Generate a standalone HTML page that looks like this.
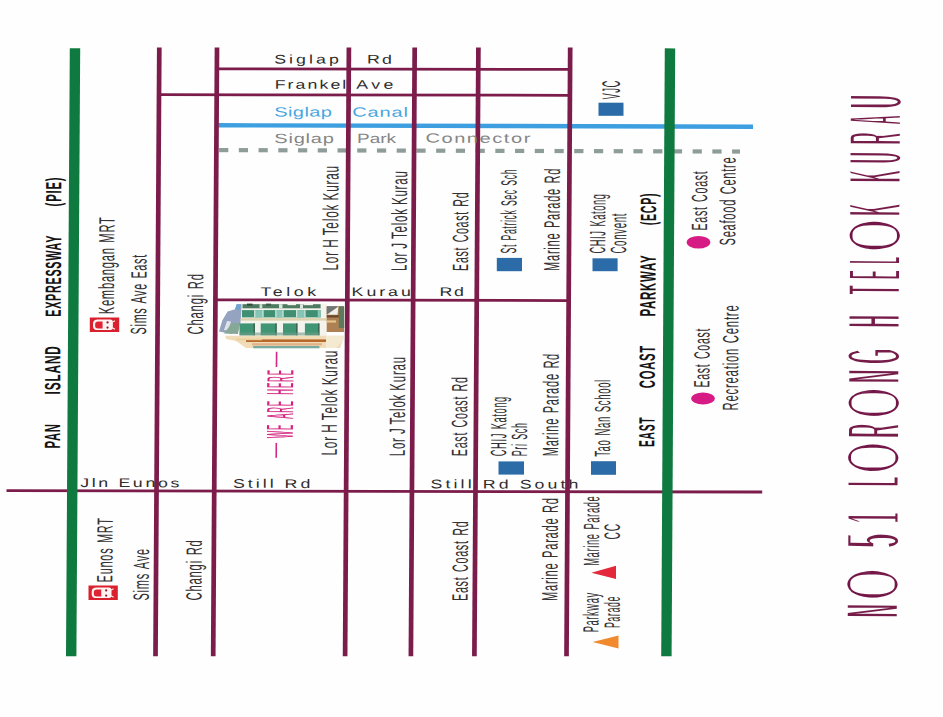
<!DOCTYPE html>
<html lang="en"><head><meta charset="utf-8"><title>No 51 Lorong H Telok Kurau - Location Map</title>
<style>
html,body{margin:0;padding:0;background:#fff;}
body{width:943px;height:717px;overflow:hidden;}
svg{display:block;}
svg text{font-family:"Liberation Sans",sans-serif;white-space:pre;}
</style></head>
<body>
<svg width="943" height="717" viewBox="0 0 943 717">
<defs>
<filter id="soft" filterUnits="userSpaceOnUse" x="210" y="296" width="145" height="60"><feGaussianBlur stdDeviation="0.55"/></filter>
<filter id="er1" filterUnits="userSpaceOnUse" x="0" y="0" width="943" height="717"><feMorphology operator="erode" radius="1 0"/></filter>
<filter id="er2" filterUnits="userSpaceOnUse" primitiveUnits="userSpaceOnUse" x="830" y="80" width="90" height="560"><feMorphology in="SourceGraphic" operator="erode" radius="3 0" x="830" y="80.00" width="90" height="138.30" result="n0"/><feMorphology in="SourceGraphic" operator="erode" radius="3 1" x="830" y="218.30" width="90" height="35.25" result="o0"/><feMorphology in="SourceGraphic" operator="erode" radius="3 0" x="830" y="253.55" width="90" height="132.30" result="n1"/><feMorphology in="SourceGraphic" operator="erode" radius="3 1" x="830" y="385.85" width="90" height="34.35" result="o1"/><feMorphology in="SourceGraphic" operator="erode" radius="3 0" x="830" y="420.20" width="90" height="20.35" result="n2"/><feMorphology in="SourceGraphic" operator="erode" radius="3 1" x="830" y="440.55" width="90" height="33.80" result="o2"/><feMorphology in="SourceGraphic" operator="erode" radius="3 0" x="830" y="474.35" width="90" height="84.70" result="n3"/><feMorphology in="SourceGraphic" operator="erode" radius="3 1" x="830" y="559.05" width="90" height="42.75" result="o3"/><feMorphology in="SourceGraphic" operator="erode" radius="3 0" x="830" y="601.80" width="90" height="38.20" result="n4"/><feMerge><feMergeNode in="n0"/><feMergeNode in="o0"/><feMergeNode in="n1"/><feMergeNode in="o1"/><feMergeNode in="n2"/><feMergeNode in="o2"/><feMergeNode in="n3"/><feMergeNode in="o3"/><feMergeNode in="n4"/></feMerge></filter>
</defs>
<rect width="943" height="717" fill="#fefefe"/>
<g id="building" filter="url(#soft)"><polygon points="236.6,304.2 242.2,304.2 240.5,323 232,334 219,331.4 222.3,320.6 227.6,311.6 235,309.3" fill="#94a3bf"/><polygon points="236.6,304.2 241,304.2 239.8,310 235.2,309.5" fill="#6ea4d2"/><polygon points="227,321 231,321.5 228,330.5 224,330" fill="#dfe4ea"/><polygon points="232,323 240,323.2 238,334 224,333.5" fill="#86a897"/><rect x="241.5" y="303.6" width="85.30" height="32.40" fill="#f4f3ec"/><rect x="242.5" y="304.2" width="78.10" height="4.10" fill="#4d7a60"/><rect x="247" y="303.6" width="5.50" height="2.00" fill="#2f4a3a"/><rect x="266" y="303.6" width="5.00" height="2.00" fill="#3a5a48"/><rect x="259.5" y="304.2" width="2.80" height="4.10" fill="#cfe0d6"/><rect x="279" y="304.2" width="3.50" height="4.10" fill="#dbe7df"/><rect x="300" y="304.2" width="3.00" height="4.10" fill="#dbe7df"/><rect x="287.5" y="303.4" width="8.50" height="1.80" fill="#f4f3ec"/><rect x="303.5" y="303.4" width="9.50" height="1.80" fill="#f4f3ec"/><rect x="242" y="310.1" width="78.60" height="7.30" fill="#3f8f73"/><rect x="254.7" y="310.1" width="8.30" height="7.30" fill="#86c4b6"/><rect x="275.8" y="310.1" width="7.20" height="7.30" fill="#86c4b6"/><rect x="296.6" y="310.1" width="8.30" height="7.30" fill="#86c4b6"/><rect x="317.7" y="310.1" width="2.90" height="7.30" fill="#86c4b6"/><rect x="254.2" y="310.1" width="1.10" height="7.30" fill="#dcebe4"/><rect x="262.5" y="310.1" width="1.10" height="7.30" fill="#dcebe4"/><rect x="275.3" y="310.1" width="1.10" height="7.30" fill="#dcebe4"/><rect x="282.5" y="310.1" width="1.10" height="7.30" fill="#dcebe4"/><rect x="296.1" y="310.1" width="1.10" height="7.30" fill="#dcebe4"/><rect x="304.4" y="310.1" width="1.10" height="7.30" fill="#dcebe4"/><rect x="240.5" y="318.2" width="86.30" height="2.40" fill="#ddd2ae"/><rect x="239.5" y="323.4" width="79.70" height="12.00" fill="#419574"/><rect x="254.7" y="323.0" width="6.00" height="12.80" fill="#f3f3ee"/><rect x="276.5" y="323.0" width="6.50" height="12.80" fill="#f3f3ee"/><rect x="297.3" y="323.0" width="7.60" height="12.80" fill="#f3f3ee"/><rect x="253.6" y="323.4" width="1.30" height="12.00" fill="#3a5c4c"/><rect x="275.4" y="323.4" width="1.30" height="12.00" fill="#3a5c4c"/><rect x="296.2" y="323.4" width="1.30" height="12.00" fill="#3a5c4c"/><rect x="318.2" y="323.4" width="1.30" height="12.00" fill="#3a5c4c"/><rect x="239.5" y="332.5" width="79.70" height="2.90" fill="#6f9d88" opacity="0.6"/><polygon points="326.7,306.3 338,306.3 344,306.3 344,332 326.7,332" fill="#ad8152"/><polygon points="326.7,306.3 338.5,306.3 326.7,314.6" fill="#6e7676"/><polygon points="338.5,306.5 326.9,314.8 337.5,314.8" fill="#eef0ee"/><rect x="338.8" y="306.3" width="5.40" height="21.70" fill="#5d7a5c"/><rect x="326.7" y="315.2" width="12.10" height="2.30" fill="#6b4a2c"/><rect x="326.7" y="320.4" width="9.30" height="2.20" fill="#e6c690"/><polygon points="225.3,335.7 343.6,335.7 343.6,338 340,348 246,348 236,341 226,339" fill="#f0dcb6"/><rect x="246" y="339.4" width="94.40" height="2.60" fill="#b8682c"/><rect x="236" y="338.6" width="26.00" height="1.60" fill="#e9cf9c"/><rect x="252" y="343.2" width="70.00" height="2.20" fill="#e3b187"/><rect x="253.2" y="345.9" width="66.20" height="2.40" fill="#78ab9e"/><polygon points="326,336 343.6,336 343.6,340 336,348 326,348" fill="#f4ead2"/></g>
<line x1="217.00" y1="68.80" x2="570.00" y2="69.40" stroke="#7b1c4b" stroke-width="2.8"/>
<line x1="159.00" y1="94.70" x2="570.00" y2="95.30" stroke="#7b1c4b" stroke-width="2.8"/>
<line x1="218.50" y1="125.30" x2="753.00" y2="126.70" stroke="#3d9fe0" stroke-width="4.4"/>
<rect x="219.10" y="148.00" width="9.20" height="4.2" fill="#8e9c9a"/>
<rect x="238.83" y="148.06" width="9.20" height="4.2" fill="#8e9c9a"/>
<rect x="258.56" y="148.11" width="9.20" height="4.2" fill="#8e9c9a"/>
<rect x="278.29" y="148.17" width="9.20" height="4.2" fill="#8e9c9a"/>
<rect x="298.02" y="148.22" width="9.20" height="4.2" fill="#8e9c9a"/>
<rect x="317.75" y="148.28" width="9.20" height="4.2" fill="#8e9c9a"/>
<rect x="337.48" y="148.33" width="9.20" height="4.2" fill="#8e9c9a"/>
<rect x="357.21" y="148.39" width="9.20" height="4.2" fill="#8e9c9a"/>
<rect x="376.94" y="148.44" width="9.20" height="4.2" fill="#8e9c9a"/>
<rect x="396.67" y="148.50" width="9.20" height="4.2" fill="#8e9c9a"/>
<rect x="416.40" y="148.55" width="9.20" height="4.2" fill="#8e9c9a"/>
<rect x="436.13" y="148.61" width="9.20" height="4.2" fill="#8e9c9a"/>
<rect x="455.86" y="148.66" width="9.20" height="4.2" fill="#8e9c9a"/>
<rect x="475.59" y="148.72" width="9.20" height="4.2" fill="#8e9c9a"/>
<rect x="495.32" y="148.77" width="9.20" height="4.2" fill="#8e9c9a"/>
<rect x="515.05" y="148.83" width="9.20" height="4.2" fill="#8e9c9a"/>
<rect x="534.78" y="148.88" width="9.20" height="4.2" fill="#8e9c9a"/>
<rect x="554.51" y="148.94" width="9.20" height="4.2" fill="#8e9c9a"/>
<rect x="574.24" y="148.99" width="9.20" height="4.2" fill="#8e9c9a"/>
<rect x="593.97" y="149.05" width="9.20" height="4.2" fill="#8e9c9a"/>
<rect x="613.70" y="149.11" width="9.20" height="4.2" fill="#8e9c9a"/>
<rect x="633.43" y="149.16" width="9.20" height="4.2" fill="#8e9c9a"/>
<rect x="653.16" y="149.22" width="9.20" height="4.2" fill="#8e9c9a"/>
<rect x="672.89" y="149.27" width="9.20" height="4.2" fill="#8e9c9a"/>
<rect x="692.62" y="149.33" width="9.20" height="4.2" fill="#8e9c9a"/>
<rect x="712.35" y="149.38" width="9.20" height="4.2" fill="#8e9c9a"/>
<rect x="732.08" y="149.44" width="7.92" height="4.2" fill="#8e9c9a"/>
<line x1="216.00" y1="299.80" x2="569.50" y2="300.60" stroke="#7b1c4b" stroke-width="2.8"/>
<line x1="6.50" y1="490.60" x2="762.20" y2="492.00" stroke="#7b1c4b" stroke-width="2.8"/>
<line x1="159.30" y1="47.60" x2="155.50" y2="656.20" stroke="#7b1c4b" stroke-width="4.7"/>
<line x1="217.00" y1="47.60" x2="213.20" y2="656.20" stroke="#7b1c4b" stroke-width="4.7"/>
<line x1="348.90" y1="47.60" x2="345.10" y2="656.20" stroke="#7b1c4b" stroke-width="4.7"/>
<line x1="414.70" y1="47.60" x2="410.90" y2="656.20" stroke="#7b1c4b" stroke-width="4.7"/>
<line x1="478.40" y1="47.60" x2="474.40" y2="656.20" stroke="#7b1c4b" stroke-width="4.7"/>
<line x1="570.20" y1="47.60" x2="566.50" y2="656.20" stroke="#7b1c4b" stroke-width="4.7"/>
<line x1="75.00" y1="48.20" x2="71.20" y2="656.20" stroke="#0f7a3f" stroke-width="10.4"/>
<line x1="670.00" y1="48.40" x2="666.40" y2="656.20" stroke="#0f7a3f" stroke-width="10.4"/>
<rect x="598.5" y="102.7" width="25.00" height="13.10" fill="#2b6ca8"/>
<rect x="496.8" y="257.9" width="25.20" height="13.30" fill="#2b6ca8"/>
<rect x="592.5" y="258.3" width="25.10" height="12.90" fill="#2b6ca8"/>
<rect x="498.5" y="461.4" width="25.50" height="13.20" fill="#2b6ca8"/>
<rect x="591.0" y="461.2" width="25.00" height="13.60" fill="#2b6ca8"/>
<ellipse cx="698.5" cy="242.3" rx="11.8" ry="6.3" fill="#d61c84"/>
<ellipse cx="703" cy="398.5" rx="11.8" ry="6.1" fill="#d61c84"/>
<polygon points="591.4,572.8 616,565.8 616,579.1" fill="#e2283a"/>
<polygon points="592.6,641.9 618.5,635.6 618.5,648.6" fill="#f18a2c"/>
<g transform="translate(89.8,317.5) scale(1.0068,1.0069)"><rect width="29.2" height="14.4" fill="#d9202f"/><path d="M8.2,2.1 H20.4 Q22.9,2.1 22.9,4.6 V10 Q22.9,12.5 20.4,12.5 H8.2 Q3.2,12.5 3.2,8.6 V6 Q3.2,2.1 8.2,2.1 Z" fill="#fff4f2"/><path d="M8.4,3.9 H12.7 V10.9 H8.4 Q5.3,10.9 5.3,8.4 V6.4 Q5.3,3.9 8.4,3.9 Z" fill="#e12435"/><circle cx="17.6" cy="4.9" r="1.1" fill="#8d1228"/><circle cx="17.6" cy="10" r="1.1" fill="#8d1228"/><path d="M22.4,4.6 L25,3.2 M22.4,10.2 L25,11.6" stroke="#fff4f2" stroke-width="1.1" fill="none"/></g>
<g transform="translate(88.5,585.5) scale(1.0034,1.0069)"><rect width="29.2" height="14.4" fill="#d9202f"/><path d="M8.2,2.1 H20.4 Q22.9,2.1 22.9,4.6 V10 Q22.9,12.5 20.4,12.5 H8.2 Q3.2,12.5 3.2,8.6 V6 Q3.2,2.1 8.2,2.1 Z" fill="#fff4f2"/><path d="M8.4,3.9 H12.7 V10.9 H8.4 Q5.3,10.9 5.3,8.4 V6.4 Q5.3,3.9 8.4,3.9 Z" fill="#e12435"/><circle cx="17.6" cy="4.9" r="1.1" fill="#8d1228"/><circle cx="17.6" cy="10" r="1.1" fill="#8d1228"/><path d="M22.4,4.6 L25,3.2 M22.4,10.2 L25,11.6" stroke="#fff4f2" stroke-width="1.1" fill="none"/></g>
<text transform="translate(59.90,448.50) rotate(-89.645)" font-size="22.05" font-weight="bold" fill="#151313" letter-spacing="1.6" word-spacing="3" textLength="25.19" lengthAdjust="spacingAndGlyphs">PAN</text>
<text transform="translate(60.10,394.40) rotate(-89.645)" font-size="22.05" font-weight="bold" fill="#151313" letter-spacing="1.6" word-spacing="3" textLength="49.04" lengthAdjust="spacingAndGlyphs">ISLAND</text>
<text transform="translate(60.70,316.80) rotate(-89.645)" font-size="22.05" font-weight="bold" fill="#151313" letter-spacing="1.6" word-spacing="3" textLength="81.87" lengthAdjust="spacingAndGlyphs">EXPRESSWAY</text>
<text transform="translate(61.10,206.40) rotate(-89.645)" font-size="22.05" font-weight="bold" fill="#151313" letter-spacing="1.6" word-spacing="3" textLength="29.69" lengthAdjust="spacingAndGlyphs">(PIE)</text>
<text transform="translate(113.90,314.30) rotate(-89.645)" font-size="22.05" fill="#333031" letter-spacing="1.6" word-spacing="1.5" textLength="97.90" lengthAdjust="spacingAndGlyphs">Kembangan MRT</text>
<text transform="translate(146.10,334.40) rotate(-89.645)" font-size="22.05" fill="#333031" letter-spacing="1.6" word-spacing="1.5" textLength="80.37" lengthAdjust="spacingAndGlyphs">Sims Ave East</text>
<text transform="translate(202.90,334.40) rotate(-89.645)" font-size="22.05" fill="#333031" letter-spacing="1.6" word-spacing="1.5" textLength="61.10" lengthAdjust="spacingAndGlyphs">Changi Rd</text>
<text transform="translate(337.90,270.50) rotate(-89.645)" font-size="22.05" fill="#333031" letter-spacing="1.6" word-spacing="-1.5" textLength="105.44" lengthAdjust="spacingAndGlyphs">Lor H Telok Kurau</text>
<text transform="translate(406.60,270.90) rotate(-89.645)" font-size="22.05" fill="#333031" letter-spacing="1.6" word-spacing="-1.5" textLength="100.52" lengthAdjust="spacingAndGlyphs">Lor J Telok Kurau</text>
<text transform="translate(467.90,270.90) rotate(-89.645)" font-size="22.05" fill="#333031" letter-spacing="1.6" word-spacing="1.5" textLength="79.26" lengthAdjust="spacingAndGlyphs">East Coast Rd</text>
<text transform="translate(516.10,253.50) rotate(-89.645)" font-size="22.05" fill="#333031" letter-spacing="1.6" word-spacing="1.5" textLength="84.62" lengthAdjust="spacingAndGlyphs">St Patrick Sec Sch</text>
<text transform="translate(559.30,270.90) rotate(-89.645)" font-size="22.05" fill="#333031" letter-spacing="1.6" word-spacing="1.5" textLength="102.99" lengthAdjust="spacingAndGlyphs">Marine Parade Rd</text>
<text transform="translate(619.70,99.60) rotate(-89.645)" font-size="25.12" fill="#333031" letter-spacing="1.6" word-spacing="1.5" textLength="19.38" lengthAdjust="spacingAndGlyphs">VJC</text>
<text transform="translate(605.10,253.50) rotate(-89.645)" font-size="22.05" fill="#333031" letter-spacing="1.6" word-spacing="1.5" textLength="60.06" lengthAdjust="spacingAndGlyphs">CHIJ Katong</text>
<text transform="translate(626.10,253.50) rotate(-89.645)" font-size="22.05" fill="#333031" letter-spacing="1.6" word-spacing="1.5" textLength="40.58" lengthAdjust="spacingAndGlyphs">Convent</text>
<text transform="translate(655.90,225.30) rotate(-89.645)" font-size="22.05" font-weight="bold" fill="#151313" letter-spacing="1.6" word-spacing="3" textLength="32.55" lengthAdjust="spacingAndGlyphs">(ECP)</text>
<text transform="translate(655.30,316.50) rotate(-89.645)" font-size="22.05" font-weight="bold" fill="#151313" letter-spacing="1.6" word-spacing="3" textLength="61.91" lengthAdjust="spacingAndGlyphs">PARKWAY</text>
<text transform="translate(654.70,388.20) rotate(-89.645)" font-size="22.05" font-weight="bold" fill="#151313" letter-spacing="1.6" word-spacing="3" textLength="43.20" lengthAdjust="spacingAndGlyphs">COAST</text>
<text transform="translate(654.30,447.00) rotate(-89.645)" font-size="22.05" font-weight="bold" fill="#151313" letter-spacing="1.6" word-spacing="3" textLength="30.22" lengthAdjust="spacingAndGlyphs">EAST</text>
<text transform="translate(706.90,230.60) rotate(-89.645)" font-size="22.05" fill="#333031" letter-spacing="1.6" word-spacing="1.5" textLength="60.16" lengthAdjust="spacingAndGlyphs">East Coast</text>
<text transform="translate(735.10,245.40) rotate(-89.645)" font-size="22.05" fill="#333031" letter-spacing="1.6" word-spacing="1.5" textLength="88.79" lengthAdjust="spacingAndGlyphs">Seafood Centre</text>
<text transform="translate(709.30,387.60) rotate(-89.645)" font-size="22.05" fill="#333031" letter-spacing="1.6" word-spacing="1.5" textLength="59.85" lengthAdjust="spacingAndGlyphs">East Coast</text>
<text transform="translate(737.90,410.50) rotate(-89.645)" font-size="22.05" fill="#333031" letter-spacing="1.6" word-spacing="1.5" textLength="106.01" lengthAdjust="spacingAndGlyphs">Recreation Centre</text>
<text transform="translate(336.70,455.60) rotate(-89.645)" font-size="22.05" fill="#333031" letter-spacing="1.6" word-spacing="-1.5" textLength="105.85" lengthAdjust="spacingAndGlyphs">Lor H Telok Kurau</text>
<text transform="translate(404.70,456.20) rotate(-89.645)" font-size="22.05" fill="#333031" letter-spacing="1.6" word-spacing="-1.5" textLength="100.02" lengthAdjust="spacingAndGlyphs">Lor J Telok Kurau</text>
<text transform="translate(466.90,456.20) rotate(-89.645)" font-size="22.05" fill="#333031" letter-spacing="1.6" word-spacing="1.5" textLength="79.86" lengthAdjust="spacingAndGlyphs">East Coast Rd</text>
<text transform="translate(506.10,456.20) rotate(-89.645)" font-size="22.05" fill="#333031" letter-spacing="1.6" word-spacing="1.5" textLength="60.06" lengthAdjust="spacingAndGlyphs">CHIJ Katong</text>
<text transform="translate(526.90,456.20) rotate(-89.645)" font-size="22.05" fill="#333031" letter-spacing="1.6" word-spacing="1.5" textLength="33.73" lengthAdjust="spacingAndGlyphs">Pri Sch</text>
<text transform="translate(558.10,456.20) rotate(-89.645)" font-size="22.05" fill="#333031" letter-spacing="1.6" word-spacing="1.5" textLength="103.19" lengthAdjust="spacingAndGlyphs">Marine Parade Rd</text>
<text transform="translate(609.90,456.80) rotate(-89.645)" font-size="22.05" fill="#333031" letter-spacing="1.6" word-spacing="1.5" textLength="77.68" lengthAdjust="spacingAndGlyphs">Tao Nan School</text>
<text transform="translate(112.30,582.40) rotate(-89.645)" font-size="22.05" fill="#333031" letter-spacing="1.6" word-spacing="1.5" textLength="65.08" lengthAdjust="spacingAndGlyphs">Eunos MRT</text>
<text transform="translate(148.70,600.50) rotate(-89.645)" font-size="22.05" fill="#333031" letter-spacing="1.6" word-spacing="1.5" textLength="52.28" lengthAdjust="spacingAndGlyphs">Sims Ave</text>
<text transform="translate(201.40,600.50) rotate(-89.645)" font-size="22.05" fill="#333031" letter-spacing="1.6" word-spacing="1.5" textLength="61.10" lengthAdjust="spacingAndGlyphs">Changi Rd</text>
<text transform="translate(467.60,601.00) rotate(-89.645)" font-size="22.05" fill="#333031" letter-spacing="1.6" word-spacing="1.5" textLength="80.37" lengthAdjust="spacingAndGlyphs">East Coast Rd</text>
<text transform="translate(557.30,601.00) rotate(-89.645)" font-size="22.05" fill="#333031" letter-spacing="1.6" word-spacing="1.5" textLength="103.69" lengthAdjust="spacingAndGlyphs">Marine Parade Rd</text>
<text transform="translate(598.90,565.80) rotate(-89.645)" font-size="22.05" fill="#333031" letter-spacing="1.6" word-spacing="1.5" textLength="70.17" lengthAdjust="spacingAndGlyphs">Marine Parade</text>
<text transform="translate(619.70,539.50) rotate(-89.645)" font-size="22.05" fill="#333031" letter-spacing="1.6" word-spacing="1.5" textLength="16.31" lengthAdjust="spacingAndGlyphs">CC</text>
<text transform="translate(598.50,632.30) rotate(-89.645)" font-size="22.05" fill="#333031" letter-spacing="1.6" word-spacing="1.5" textLength="40.06" lengthAdjust="spacingAndGlyphs">Parkway</text>
<text transform="translate(619.70,628.10) rotate(-89.645)" font-size="22.05" fill="#333031" letter-spacing="1.6" word-spacing="1.5" textLength="32.02" lengthAdjust="spacingAndGlyphs">Parade</text>
<text transform="translate(274.20,63.50) rotate(0.1)" font-size="12.50" fill="#2e2c2c" letter-spacing="2.16" textLength="67.77" lengthAdjust="spacingAndGlyphs">Siglap</text>
<text transform="translate(366.90,63.60) rotate(0.1)" font-size="12.50" fill="#2e2c2c" letter-spacing="1.70" textLength="27.51" lengthAdjust="spacingAndGlyphs">Rd</text>
<text transform="translate(274.70,88.70) rotate(0.1)" font-size="12.50" fill="#2e2c2c" letter-spacing="1.46" textLength="73.67" lengthAdjust="spacingAndGlyphs">Frankel</text>
<text transform="translate(356.30,88.80) rotate(0.1)" font-size="12.50" fill="#2e2c2c" letter-spacing="2.41" textLength="40.52" lengthAdjust="spacingAndGlyphs">Ave</text>
<text transform="translate(274.20,116.50) rotate(0.1)" font-size="13.37" fill="#4aa6de" letter-spacing="0.27" textLength="58.21" lengthAdjust="spacingAndGlyphs">Siglap</text>
<text transform="translate(352.30,116.60) rotate(0.1)" font-size="13.37" fill="#4aa6de" letter-spacing="0.55" textLength="56.52" lengthAdjust="spacingAndGlyphs">Canal</text>
<text transform="translate(274.20,143.00) rotate(0.1)" font-size="13.37" fill="#858585" letter-spacing="0.54" textLength="60.61" lengthAdjust="spacingAndGlyphs">Siglap</text>
<text transform="translate(357.00,143.00) rotate(0.1)" font-size="13.37" fill="#858585" letter-spacing="0.00" textLength="39.00" lengthAdjust="spacingAndGlyphs">Park</text>
<text transform="translate(425.40,142.60) rotate(0.1)" font-size="13.37" fill="#858585" letter-spacing="1.04" textLength="106.56" lengthAdjust="spacingAndGlyphs">Connector</text>
<text transform="translate(260.40,295.90) rotate(0.1)" font-size="12.50" fill="#2e2c2c" letter-spacing="2.53" textLength="59.39" lengthAdjust="spacingAndGlyphs">Telok</text>
<text transform="translate(351.60,296.00) rotate(0.1)" font-size="12.50" fill="#2e2c2c" letter-spacing="2.08" textLength="62.16" lengthAdjust="spacingAndGlyphs">Kurau</text>
<text transform="translate(439.40,296.00) rotate(0.1)" font-size="12.50" fill="#2e2c2c" letter-spacing="1.20" textLength="26.11" lengthAdjust="spacingAndGlyphs">Rd</text>
<text transform="translate(80.20,487.00) rotate(0.1)" font-size="12.50" fill="#2e2c2c" letter-spacing="1.86" textLength="101.74" lengthAdjust="spacingAndGlyphs">Jln Eunos</text>
<text transform="translate(232.90,487.80) rotate(0.1)" font-size="12.50" fill="#2e2c2c" letter-spacing="2.13" textLength="80.43" lengthAdjust="spacingAndGlyphs">Still Rd</text>
<text transform="translate(430.60,488.30) rotate(0.1)" font-size="12.50" fill="#2e2c2c" letter-spacing="2.19" textLength="151.00" lengthAdjust="spacingAndGlyphs">Still Rd South</text>
<g filter="url(#er1)">
<text transform="translate(293.30,438.20) rotate(-89.645)" font-size="38.81" stroke="#d4207e" stroke-width="1.2" fill="#d4207e" letter-spacing="5" word-spacing="11" textLength="68.98" lengthAdjust="spacingAndGlyphs">WE ARE HERE</text>
</g>
<line x1="276.6" y1="351.7" x2="276.5" y2="367.0" stroke="#d22a82" stroke-width="1.6"/>
<line x1="276.3" y1="442.9" x2="276.2" y2="457.7" stroke="#d22a82" stroke-width="1.6"/>
<g filter="url(#er2)"><title>NO 51 LORONG H TELOK KURAU</title>
<text transform="translate(899.80,616.30) rotate(-89.645)" font-size="79.94" fill="#741a48"><tspan x="-1.21" textLength="13.02" lengthAdjust="spacingAndGlyphs" y="0" font-weight="bold">N</tspan><tspan x="16.39" textLength="31.05" lengthAdjust="spacingAndGlyphs" y="-1.6" font-size="75.15" stroke="#741a48" stroke-width="3.3">O</tspan></text>
<text transform="translate(900.23,547.20) rotate(-89.645)" font-size="79.94" fill="#741a48"><tspan x="-0.78" textLength="14.08" lengthAdjust="spacingAndGlyphs" y="0" font-weight="bold">5</tspan><tspan x="24.08" textLength="9.92" lengthAdjust="spacingAndGlyphs" y="0" font-weight="bold">1</tspan></text>
<text transform="translate(900.61,485.20) rotate(-89.645)" font-size="79.94" fill="#741a48"><tspan x="-1.02" textLength="9.28" lengthAdjust="spacingAndGlyphs" y="0" font-weight="bold">L</tspan><tspan x="11.89" textLength="30.83" lengthAdjust="spacingAndGlyphs" y="-1.6" font-size="75.15" stroke="#741a48" stroke-width="3.3">O</tspan><tspan x="47.28" textLength="14.22" lengthAdjust="spacingAndGlyphs" y="0" font-weight="bold">R</tspan><tspan x="66.91" textLength="30.30" lengthAdjust="spacingAndGlyphs" y="-1.6" font-size="75.15" stroke="#741a48" stroke-width="3.3">O</tspan><tspan x="102.29" textLength="13.02" lengthAdjust="spacingAndGlyphs" y="0" font-weight="bold">N</tspan><tspan x="121.10" textLength="15.10" lengthAdjust="spacingAndGlyphs" y="0" font-weight="bold">G</tspan></text>
<text transform="translate(901.60,326.50) rotate(-89.645)" font-size="79.94" fill="#741a48"><tspan x="-1.12" textLength="12.04" lengthAdjust="spacingAndGlyphs" y="0" font-weight="bold">H</tspan></text>
<text transform="translate(901.80,294.40) rotate(-89.645)" font-size="79.94" fill="#741a48"><tspan x="-0.16" textLength="8.71" lengthAdjust="spacingAndGlyphs" y="0" font-weight="bold">T</tspan><tspan x="15.03" textLength="8.68" lengthAdjust="spacingAndGlyphs" y="0" font-weight="bold">E</tspan><tspan x="30.77" textLength="6.67" lengthAdjust="spacingAndGlyphs" y="0" font-weight="bold">L</tspan><tspan x="42.55" textLength="32.12" lengthAdjust="spacingAndGlyphs" y="-1.6" font-size="75.15" stroke="#741a48" stroke-width="3.3">O</tspan><tspan x="78.45" textLength="12.41" lengthAdjust="spacingAndGlyphs" y="0" font-weight="bold">K</tspan></text>
<text transform="translate(902.50,181.30) rotate(-89.645)" font-size="79.94" fill="#741a48"><tspan x="-1.17" textLength="12.63" lengthAdjust="spacingAndGlyphs" y="0" font-weight="bold">K</tspan><tspan x="17.78" textLength="11.05" lengthAdjust="spacingAndGlyphs" y="0" font-weight="bold">U</tspan><tspan x="36.47" textLength="12.17" lengthAdjust="spacingAndGlyphs" y="0" font-weight="bold">R</tspan><tspan x="56.79" textLength="9.04" lengthAdjust="spacingAndGlyphs" y="0" font-weight="bold">A</tspan><tspan x="72.79" textLength="13.34" lengthAdjust="spacingAndGlyphs" y="0" font-weight="bold">U</tspan></text>
</g>
</svg>
</body></html>
